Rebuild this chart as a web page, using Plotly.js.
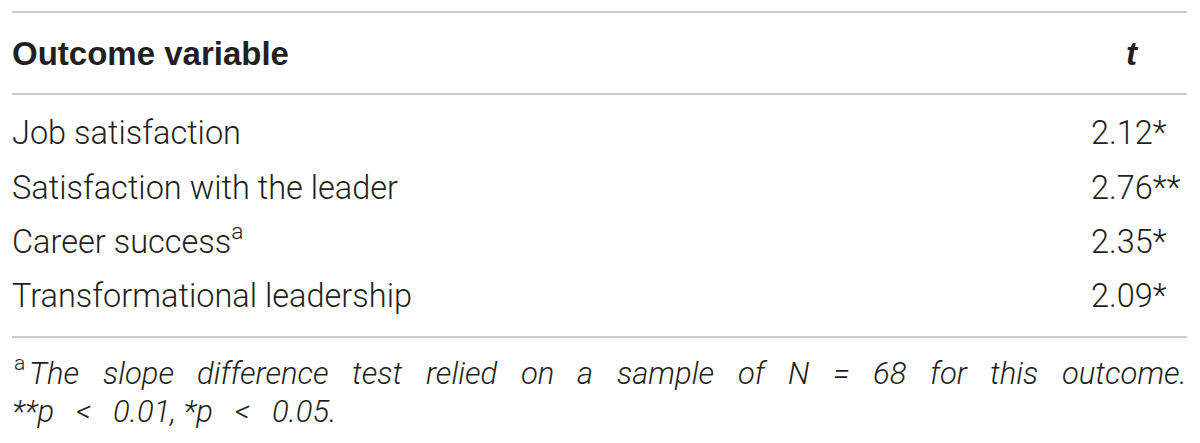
<!DOCTYPE html>
<html>
<head>
<meta charset="utf-8">
<script src="https://cdn.plot.ly/plotly-3.0.1.min.js"></script>
<style>
  html, body { margin: 0; padding: 0; background: #fff; }
  #table { width: 1200px; height: 443px; }
</style>
</head>
<body>
<div id="table"></div>
<script>
// table content
const outcomes = [
    "Job satisfaction",
    "Satisfaction with the leader",
    "Career success<sup>a</sup>",
    "Transformational leadership"
];
const tValues = [2.12, 2.76, 2.35, 2.09];
const sigMarks = ["*", "**", "*", "*"];
const headers = ["Outcome variable", "t"];
const noteLine1 = "The slope difference test relied on a sample of N = 68 for this outcome.";
const noteLine2 = "**p\u2002\u2009<\u2002\u20090.01, *p\u2002\u2009<\u2002\u20090.05.";

const W = 1200, H = 443;
const LIGHT = "Roboto, Liberation Sans, Arial, sans-serif";
const BOLD = "Liberation Sans, Arial, sans-serif";
const INK = "#231f20";
const RULE = "#cccccc";
const left = 12, right = 1187;

// pixel row -> paper fraction
function py(px) { return 1 - px / H; }

function textWidth(str, css) {
    const ctx = document.createElement("canvas").getContext("2d");
    ctx.font = css;
    return ctx.measureText(str).width;
}

function buildNote() {
    var anns = [];
    // superscript marker
    anns.push({
        xref: "x", yref: "paper", x: left, y: py(363),
        xanchor: "left", yanchor: "middle", showarrow: false,
        text: "a", font: { family: LIGHT, size: 21, color: INK, weight: 300 }
    });
    // justified first line
    const size = 31;
    const css = "italic 300 " + size + "px Roboto";
    const words = noteLine1.split(" ");
    const start = left + 17;
    const widths = words.map(w => textWidth(w, css));
    const total = widths.reduce((a, b) => a + b, 0);
    const gap = (right - start - total) / (words.length - 1);
    var x = start;
    words.forEach((w, i) => {
        anns.push({
            xref: "x", yref: "paper", x: x, y: py(373),
            xanchor: "left", yanchor: "middle", showarrow: false,
            xshift: -2,
            text: "<i>" + w + "</i>", font: { family: LIGHT, size: size, color: INK, weight: 300 }
        });
        x += widths[i] + gap;
    });
    anns.push({
        xref: "x", yref: "paper", x: left, y: py(411),
        xanchor: "left", yanchor: "middle", showarrow: false, xshift: -2,
        text: "<i>" + noteLine2 + "</i>", font: { family: LIGHT, size: size, color: INK, weight: 300 }
    });
    return anns;
}

function initTable() {
    const labelTrace = {
        type: "scatter", mode: "text",
        x: outcomes.map(() => left),
        y: outcomes,
        text: outcomes,
        textposition: "middle right",
        textfont: { family: LIGHT, size: 32.5, color: INK, weight: 300 },
        hoverinfo: "skip", cliponaxis: false
    };
    const valueTrace = {
        type: "scatter", mode: "text",
        x: outcomes.map(() => 1091),
        y: outcomes,
        text: tValues.map((v, i) => v.toFixed(2) + sigMarks[i]),
        textposition: "middle right",
        textfont: { family: LIGHT, size: 32.5, color: INK, weight: 300 },
        hoverinfo: "skip", cliponaxis: false
    };

    const rules = [12, 94, 337].map(p => ({
        type: "line", xref: "x", yref: "paper",
        x0: left, x1: right, y0: py(p), y1: py(p),
        line: { color: RULE, width: 2 }
    }));

    const headAnns = [
        {
            xref: "x", yref: "paper", x: left, y: py(53),
            xanchor: "left", yanchor: "middle", showarrow: false, xshift: -2,
            text: "<b>" + headers[0] + "</b>", font: { family: BOLD, size: 33, color: INK }
        },
        {
            xref: "x", yref: "paper", x: 1132, y: py(53),
            xanchor: "center", yanchor: "middle", showarrow: false,
            text: "<b><i>" + headers[1] + "</i></b>", font: { family: BOLD, size: 33, color: INK }
        }
    ];

    const layout = {
        width: W, height: H,
        margin: { l: 0, r: 0, t: 0, b: 0 },
        paper_bgcolor: "#fff", plot_bgcolor: "#fff",
        showlegend: false,
        xaxis: { range: [0, W], visible: false, fixedrange: true },
        yaxis: {
            type: "category", categoryarray: outcomes,
            range: [3.5, -0.5],
            domain: [py(326), py(109)],
            visible: false, fixedrange: true
        },
        shapes: rules,
        annotations: headAnns.concat(buildNote())
    };

    Plotly.newPlot("table", [labelTrace, valueTrace], layout, { displayModeBar: false, staticPlot: true });
}

document.addEventListener("DOMContentLoaded", initTable);
</script>
</body>
</html>
